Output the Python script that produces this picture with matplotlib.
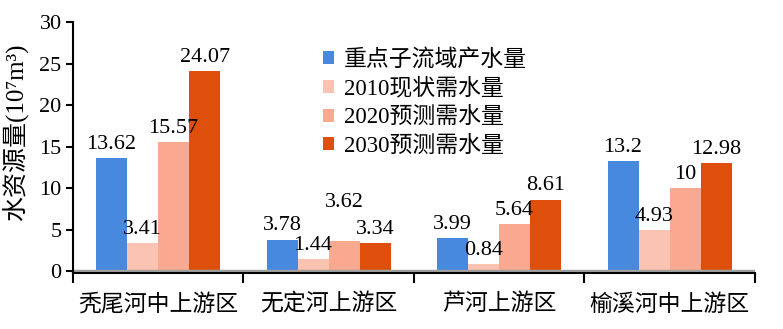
import numpy as np
import matplotlib.pyplot as plt

plt.rcParams['font.family'] = ['Liberation Serif', 'Noto Sans CJK SC']
plt.rcParams['font.size'] = 16

# Regions and water volumes (10^7 m^3)
regions = ['秃尾河中上游区', '无定河上游区', '芦河上游区', '榆溪河中上游区']
series_names = ['重点子流域产水量', '2010现状需水量', '2020预测需水量', '2030预测需水量']
supply = [13.62, 3.78, 3.99, 13.2]
demand_2010 = [3.41, 1.44, 0.84, 4.93]
demand_2020 = [15.57, 3.62, 5.64, 10]
demand_2030 = [24.07, 3.34, 8.61, 12.98]

colors = ['#4889e0', '#fbc3b1', '#f8a98f', '#dd4f0a']
# extra lift (points) for labels that would collide
label_lift = {(2, 1): 18}

fig = plt.figure(figsize=(7.83, 3.29), dpi=100)
ax = fig.add_axes([0.093, 0.170, 0.871, 0.763])

x = np.arange(len(regions))
w = 0.182
all_series = [supply, demand_2010, demand_2020, demand_2030]
for k, (vals, name, c) in enumerate(zip(all_series, series_names, colors)):
    pos = x + (k - 1.5) * w
    ax.bar(pos, vals, width=w, color=c, label=name, zorder=2)
    for i, (px, v) in enumerate(zip(pos, vals)):
        lift = label_lift.get((k, i), 0)
        ax.annotate(f'{v:g}', (px, v), xytext=(0, 3 + lift), textcoords='offset points',
                    ha='center', va='bottom', fontsize=16, zorder=3)

ax.axhline(0, color='#a0a0a0', lw=2.5, zorder=2.5)
ax.set_xlim(-0.5, 3.5)
ax.set_ylim(-0.25, 30)
ax.set_yticks(range(0, 31, 5))
ax.tick_params(axis='y', direction='out', length=5, width=1.5, pad=3)

# boundary ticks between groups, labels centred under each group
ax.set_xticks(np.arange(-0.5, 4, 1))
ax.set_xticklabels([])
ax.tick_params(axis='x', which='major', direction='out', length=7, width=1.5)
ax.set_xticks(x, minor=True)
ax.set_xticklabels(regions, minor=True, fontsize=16.5)
ax.tick_params(axis='x', which='minor', length=0, pad=15)

for s in ['top', 'right']:
    ax.spines[s].set_visible(False)
ax.spines['left'].set_linewidth(1.5)
ax.spines['bottom'].set_linewidth(1.5)

ax.set_ylabel('水资源量(10⁷m³)', fontsize=18)
ax.yaxis.set_label_coords(-0.064, 0.56)

ax.legend(loc='upper left', bbox_to_anchor=(0.35, 0.94), frameon=False,
          handlelength=0.5, handleheight=0.5, handletextpad=0.4,
          labelspacing=0.33, borderpad=0, fontsize=16.5)

fig.savefig('out.png', dpi=100)
